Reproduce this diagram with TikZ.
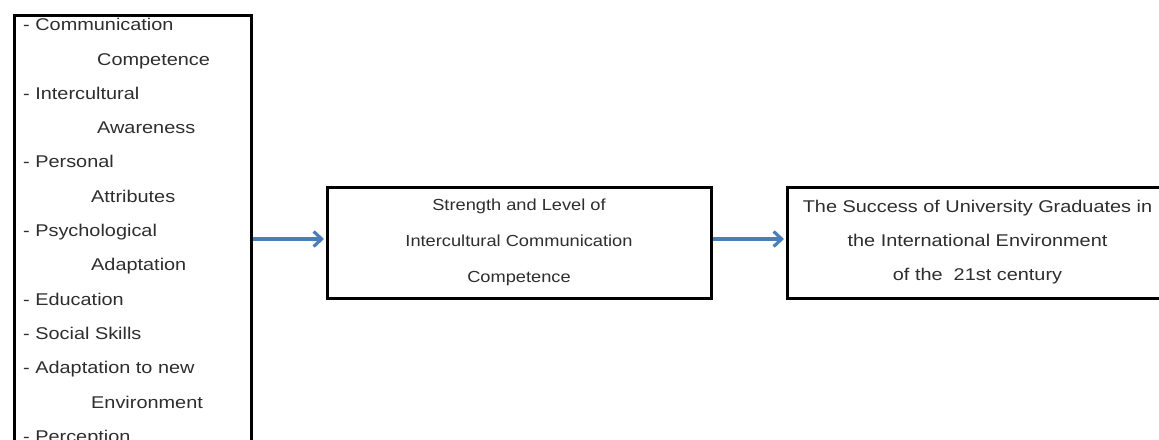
\documentclass[tikz,border=0pt]{standalone}
\usepackage{fontspec}
\newfontfamily\widefont[FakeStretch=1.17]{Liberation Sans}
\newfontfamily\midfont[FakeStretch=1.14]{Liberation Sans}
\usetikzlibrary{arrows.meta}
\definecolor{arrblue}{HTML}{4A7EBB}
\definecolor{txtgray}{HTML}{2E2E2E}
\tikzset{
  box/.style={draw=black, line width=3pt, rectangle, inner sep=0pt, text=txtgray},
  item/.style={anchor=base west, inner sep=0pt, text=txtgray, font=\widefont\fontsize{17}{20}\selectfont},
  arr/.style={draw=arrblue, line width=3.2pt, -{Straight Barb[length=8pt,width=15pt,line width=3.2pt]}},
}
\begin{document}
\begin{tikzpicture}[x=1pt,y=-1pt]
\useasboundingbox[fill=white] (0,0) rectangle (1159,439);
% left box
\node[box, minimum width=237pt, minimum height=470pt] (left) at (132.5,250) {};
\foreach \t/\x [count=\i from 0] in {
  {- Communication}/23, {Competence}/97, {- Intercultural}/23, {Awareness}/97,
  {- Personal}/23, {Attributes}/91, {- Psychological}/23, {Adaptation}/91,
  {- Education}/23, {- Social Skills}/23, {- Adaptation to new}/23,
  {Environment}/91, {- Perception}/23}
  \node[item] (l\i) at (\x, 30.7+34.3*\i) {\t};
% middle box
\node[box, minimum width=384pt, minimum height=111pt, align=center,
      font=\midfont\fontsize{16}{36}\selectfont] (mid) at (519,242.5)
  {Strength and Level of\\Intercultural Communication\\Competence};
% right box
\node[box, minimum width=381pt, minimum height=111pt, align=center,
      font=\widefont\fontsize{17}{34}\selectfont] (right) at (977.5,242.5)
  {The Success of University Graduates in\\the International Environment\\of the\ \ 21st century};
% arrows
\draw[arr] ([yshift=3.5pt]left.east |- mid.west) -- ([yshift=3.5pt,xshift=-1.5pt]mid.west);
\draw[arr] ([yshift=3.5pt]mid.east) -- ([yshift=3.5pt,xshift=-1.5pt]right.west);
\end{tikzpicture}
\end{document}
